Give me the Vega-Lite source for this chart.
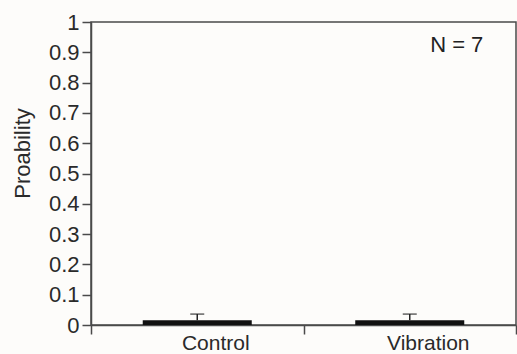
{
  "$schema": "https://vega.github.io/schema/vega-lite/v6.json",
  "width": 425,
  "height": 303,
  "autosize": {"type": "none"},
  "padding": {"left": 91, "top": 22, "right": 1, "bottom": 29},
  "background": "#fdfcfa",
  "config": {
    "view": {"stroke": "#4a4a4a", "strokeWidth": 1.5},
    "font": "Liberation Sans",
    "axisY": {
      "grid": false,
      "tickSize": 9,
      "tickColor": "#4a4a4a",
      "tickWidth": 1.5,
      "domainColor": "#4a4a4a",
      "domainWidth": 1.5,
      "labelFontSize": 22,
      "labelColor": "#2a2a2a",
      "labelPadding": 3,
      "labelOverlap": false,
      "titleFontSize": 22,
      "titleFontWeight": "normal",
      "titleColor": "#2a2a2a",
      "titleY": 131,
      "titlePadding": 14
    }
  },
  "data": {
    "values": [
      {"condition": "Control", "probability": 0.016, "upper": 0.036},
      {"condition": "Vibration", "probability": 0.016, "upper": 0.036}
    ]
  },
  "encoding": {
    "x": {
      "field": "condition",
      "type": "nominal",
      "sort": ["Control", "Vibration"],
      "scale": {"paddingInner": 0, "paddingOuter": 0},
      "axis": {
        "title": null,
        "labelAngle": 0,
        "labelOverlap": false,
        "tickBand": "extent",
        "tickSize": 9,
        "tickColor": "#4a4a4a",
        "tickWidth": 1.5,
        "domainColor": "#4a4a4a",
        "domainWidth": 1.5,
        "labelFontSize": 21,
        "labelColor": "#2a2a2a",
        "labelPadding": -2,
        "labelOffset": 18
      }
    }
  },
  "layer": [
    {
      "mark": {"type": "bar", "color": "#111111", "width": {"band": 0.513}},
      "encoding": {
        "y": {
          "field": "probability",
          "type": "quantitative",
          "scale": {"domain": [0, 1], "nice": false},
          "axis": {
            "title": "Proability",
            "values": [0, 0.1, 0.2, 0.3, 0.4, 0.5, 0.6, 0.7, 0.8, 0.9, 1],
            "labelExpr": "datum.value === 0 ? '0' : datum.value === 1 ? '1' : format(datum.value, '.1f')"
          }
        }
      }
    },
    {
      "mark": {"type": "rule", "color": "#222222", "strokeWidth": 1.5},
      "encoding": {
        "y": {
          "field": "probability",
          "type": "quantitative",
          "axis": {
            "title": "Proability",
            "values": [0, 0.1, 0.2, 0.3, 0.4, 0.5, 0.6, 0.7, 0.8, 0.9, 1],
            "labelExpr": "datum.value === 0 ? '0' : datum.value === 1 ? '1' : format(datum.value, '.1f')"
          }
        },
        "y2": {"field": "upper"}
      }
    },
    {
      "mark": {"type": "tick", "color": "#222222", "size": 14, "thickness": 1.5},
      "encoding": {
        "y": {
          "field": "upper",
          "type": "quantitative",
          "axis": {
            "title": "Proability",
            "values": [0, 0.1, 0.2, 0.3, 0.4, 0.5, 0.6, 0.7, 0.8, 0.9, 1],
            "labelExpr": "datum.value === 0 ? '0' : datum.value === 1 ? '1' : format(datum.value, '.1f')"
          }
        }
      }
    },
    {
      "data": {"values": [{"label": "N = 7", "condition": "Vibration", "yv": 0.924}]},
      "mark": {"type": "text", "fontSize": 22, "color": "#222222", "baseline": "middle", "align": "center", "dx": 47},
      "encoding": {
        "y": {
          "field": "yv",
          "type": "quantitative",
          "axis": {
            "title": "Proability",
            "values": [0, 0.1, 0.2, 0.3, 0.4, 0.5, 0.6, 0.7, 0.8, 0.9, 1],
            "labelExpr": "datum.value === 0 ? '0' : datum.value === 1 ? '1' : format(datum.value, '.1f')"
          }
        },
        "text": {"field": "label"}
      }
    }
  ]
}
